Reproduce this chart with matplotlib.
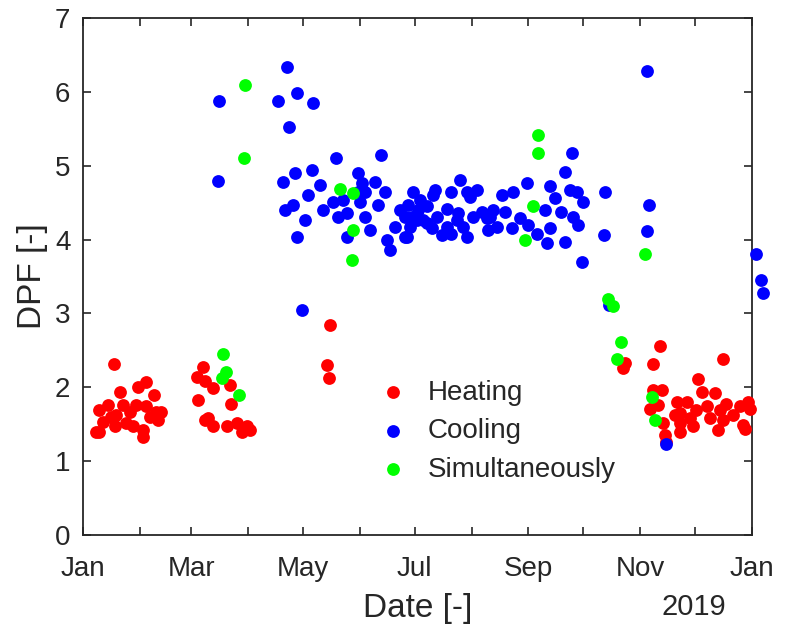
import numpy as np
import pandas as pd
import matplotlib
matplotlib.use("Agg")
import matplotlib.pyplot as plt
import matplotlib.dates as mdates

plt.rcParams['font.family'] = ['Liberation Sans', 'DejaVu Sans']

# day offsets from 2019-01-01 and DPF values
heat_day = [16.7, 34.5, 30, 20, 39, 9, 13.6, 21.8, 29, 34.5, 42.7, 41, 36.4, 25.5, 18, 11, 9, 17.3, 23.6,
            27.3, 32.7, 32.7, 7.3, 40, 15.4,
            65.6, 62.4, 66.5, 71, 80, 62.7, 81, 68.4, 71, 78.4, 83.8, 89.3, 91, 66.5, 86.6,
            134.8, 133, 134,
            295.7, 294.8, 315, 310.8, 349.3, 335.7, 311, 315.7, 337.5, 344.8, 323.9, 329.3, 309.3, 313.9,
            351, 358.4, 363, 340.2, 334.7, 347.5, 325.7, 354.8, 364, 323, 331, 342, 349.3, 316.6, 325.7,
            360.2, 333, 325.7, 346.6, 361, 317.5, 318]
heat_val = [2.31, 2.07, 2.01, 1.93, 1.89, 1.69, 1.76, 1.76, 1.76, 1.74, 1.67, 1.56, 1.60, 1.67, 1.62, 1.53,
            1.40, 1.47, 1.51, 1.47, 1.42, 1.33, 1.40, 1.67, 1.60,
            2.28, 2.14, 2.08, 1.99, 2.03, 1.83, 1.78, 1.58, 1.47, 1.47, 1.51, 1.47, 1.42, 1.56, 1.40,
            2.84, 2.30, 2.13,
            2.33, 2.26, 2.56, 2.31, 2.38, 2.11, 1.96, 1.96, 1.94, 1.92, 1.80, 1.80, 1.71, 1.76,
            1.78, 1.74, 1.80, 1.74, 1.69, 1.69, 1.65, 1.62, 1.71, 1.62, 1.58, 1.58, 1.56, 1.51, 1.51,
            1.49, 1.47, 1.40, 1.42, 1.44, 1.35, 1.26]

cool_day = [74.2, 73.6,
            111.5, 106.2, 116.6, 125.7, 112.5, 119.5,
            138, 162.6, 109.3, 115.7, 124.8, 129.3, 123, 114.7, 110.2, 121, 116.6, 131, 136.5, 142, 143.8,
            139.3, 150, 152, 153.8, 150, 151, 159.3, 164.8, 161, 153.8, 156.6, 143.8, 165.7, 167.5, 170.2,
            173, 175.7, 176.6, 180.2, 184, 187.5, 191, 205.7, 211, 182, 187.5, 193, 198.4, 203.9, 209.3, 213,
            192, 201, 209.3, 214.8, 228.4, 234.8, 242.4, 177.5, 183, 198.4, 204.7, 217.5, 223.8,
            230.2, 179.3, 185.7, 220.2, 238.4, 178.4, 190.2, 207.5, 225.7, 233.9, 243, 175.7,
            195.7, 201, 221,
            267, 263, 254.8, 265.7, 269.3, 284.8, 257.5, 273, 252, 261, 267.5, 270.2, 254.8, 247.5,
            222, 253, 263, 284, 272,
            307.8, 309, 307.8, 287, 318,
            367.2, 369.9, 371]
cool_val = [5.87, 4.79,
            6.33, 5.88, 5.99, 5.85, 5.53, 3.05,
            5.10, 5.14, 4.78, 4.90, 4.94, 4.74, 4.60, 4.47, 4.40, 4.26, 4.04, 4.40, 4.51, 4.54, 4.36,
            4.31, 4.90, 4.76, 4.65, 4.65, 4.51, 4.78, 4.65, 4.47, 4.31, 4.13, 4.04, 3.99, 3.86, 4.17,
            4.40, 4.31, 4.04, 4.65, 4.54, 4.45, 4.60, 4.81, 4.58, 4.26, 4.22, 4.31, 4.17, 4.26, 4.04, 4.31,
            4.67, 4.65, 4.65, 4.67, 4.60, 4.65, 4.76, 4.47, 4.40, 4.42, 4.36, 4.38, 4.40,
            4.38, 4.31, 4.26, 4.29, 4.29, 4.17, 4.15, 4.17, 4.17, 4.15, 4.20, 4.04,
            4.06, 4.08, 4.13,
            5.17, 4.91, 4.72, 4.67, 4.65, 4.65, 4.56, 4.51, 4.40, 4.38, 4.31, 4.20, 4.15, 4.08,
            4.31, 3.95, 3.97, 4.06, 3.70,
            6.28, 4.47, 4.11, 3.11, 1.23,
            3.81, 3.45, 3.27]

sim_day = [76.5, 78, 75.7, 85.3, 88.4, 87.8, 140.2, 147.5, 147.5, 146.6, 248.4, 248.4, 245.6, 241,
           306.6, 286.6, 289, 293.3, 291.5, 310.2, 312]
sim_val = [2.45, 2.21, 2.12, 1.90, 6.09, 5.10, 4.68, 4.63, 4.13, 3.73, 5.41, 5.17, 4.45, 3.99,
           3.81, 3.20, 3.10, 2.61, 2.38, 1.87, 1.56]

labels = ['Heating', 'Cooling', 'Simultaneously']
colors = ['#ff0000', '#0000ff', '#00ff00']

base = pd.Timestamp('2019-01-01')
def to_dates(days):
    return base + pd.to_timedelta(np.array(days, dtype=float), unit='D')

fig = plt.figure(figsize=(7.93, 6.30), dpi=100)
ax = fig.add_axes([83/793, 1-535/630, (752-83)/793, (535-18)/630])

for d, v, lab, c in zip([heat_day, cool_day, sim_day], [heat_val, cool_val, sim_val], labels, colors):
    ax.scatter(to_dates(d), v, s=85, color=c, linewidths=0, label=lab, clip_on=False, zorder=3)

ax.set_xlim(pd.Timestamp('2019-01-01'), pd.Timestamp('2020-01-01'))
ax.set_ylim(0, 7)
ax.set_yticks(range(0, 8))

ax.xaxis.set_major_locator(mdates.MonthLocator())
def fmt(x, pos=None):
    dt = mdates.num2date(x)
    return dt.strftime('%b') if dt.month % 2 == 1 else ''
ax.xaxis.set_major_formatter(plt.FuncFormatter(fmt))

tc = '#262626'
for sp in ax.spines.values():
    sp.set_color(tc)
    sp.set_linewidth(1.3)
ax.tick_params(axis='both', direction='in', length=6, width=1.2, color=tc, labelcolor=tc,
               labelsize=20, top=True, right=True)
ax.tick_params(axis='x', pad=15)
ax.tick_params(axis='y', pad=9)

ax.set_ylabel('DPF [-]', fontsize=24, color=tc, labelpad=5)
ax.set_xlabel('Date [-]', fontsize=24, color=tc, labelpad=8)
fig.text(694/793, 1-607/630, '2019', fontsize=21, color=tc, ha='center', va='center')

leg = ax.legend(loc='center left', bbox_to_anchor=(0.442, 0.201), frameon=False, fontsize=20,
                handlelength=1.0, handletextpad=0.75, borderpad=0, borderaxespad=0,
                labelspacing=0.45, scatterpoints=1)
for t in leg.get_texts():
    t.set_color(tc)

fig.savefig('out.png', dpi=100, facecolor='white')
